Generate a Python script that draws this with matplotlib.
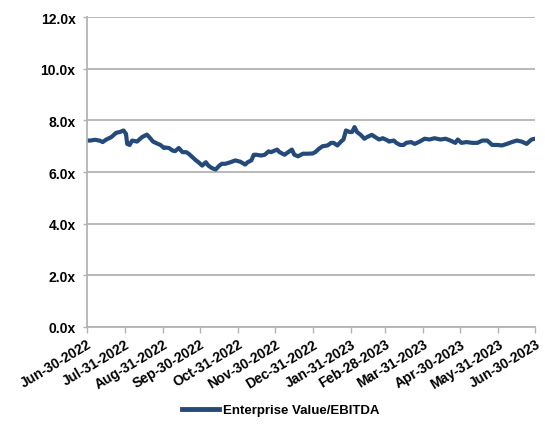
import matplotlib
matplotlib.use("Agg")
import matplotlib.pyplot as plt
from matplotlib.ticker import FuncFormatter
from matplotlib.lines import Line2D
import pandas as pd

plt.rcParams['font.family'] = ['Liberation Sans', 'DejaVu Sans']

series_name = "Enterprise Value/EBITDA"

dates = [
    "2022-06-30", "2022-07-03", "2022-07-07", "2022-07-11", "2022-07-13", "2022-07-16",
    "2022-07-20", "2022-07-24", "2022-07-27", "2022-07-30", "2022-08-01", "2022-08-02",
    "2022-08-04", "2022-08-06", "2022-08-10", "2022-08-14", "2022-08-18", "2022-08-20",
    "2022-08-23", "2022-08-27", "2022-08-29", "2022-09-01", "2022-09-02", "2022-09-05",
    "2022-09-08", "2022-09-10", "2022-09-13", "2022-09-16", "2022-09-19", "2022-09-21",
    "2022-09-24", "2022-09-27", "2022-09-29", "2022-10-02", "2022-10-05", "2022-10-07",
    "2022-10-10", "2022-10-13", "2022-10-16", "2022-10-18", "2022-10-21", "2022-10-25",
    "2022-10-29", "2022-11-02", "2022-11-06", "2022-11-08", "2022-11-11", "2022-11-13",
    "2022-11-15", "2022-11-19", "2022-11-22", "2022-11-25", "2022-11-27", "2022-12-02",
    "2022-12-04", "2022-12-08", "2022-12-11", "2022-12-14", "2022-12-16", "2022-12-19",
    "2022-12-23", "2022-12-27", "2022-12-31", "2023-01-02", "2023-01-05", "2023-01-08",
    "2023-01-12", "2023-01-15", "2023-01-17", "2023-01-20", "2023-01-23", "2023-01-25",
    "2023-01-27", "2023-01-30", "2023-02-01", "2023-02-03", "2023-02-05", "2023-02-08",
    "2023-02-11", "2023-02-13", "2023-02-17", "2023-02-20", "2023-02-23", "2023-02-26",
    "2023-03-02", "2023-03-03", "2023-03-07", "2023-03-09", "2023-03-12", "2023-03-15",
    "2023-03-17", "2023-03-21", "2023-03-24", "2023-03-28", "2023-04-01", "2023-04-05",
    "2023-04-09", "2023-04-14", "2023-04-18", "2023-04-22", "2023-04-26", "2023-04-28",
    "2023-05-01", "2023-05-05", "2023-05-10", "2023-05-14", "2023-05-18", "2023-05-22",
    "2023-05-26", "2023-05-30", "2023-06-03", "2023-06-07", "2023-06-11", "2023-06-15",
    "2023-06-19", "2023-06-23", "2023-06-27", "2023-06-30",
]

ev_ebitda = [
    7.22, 7.22, 7.25, 7.21, 7.16, 7.26,
    7.35, 7.52, 7.55, 7.61, 7.48, 7.09,
    7.05, 7.22, 7.18, 7.35, 7.45, 7.35,
    7.18, 7.09, 7.05, 6.93, 6.95, 6.93,
    6.83, 6.81, 6.93, 6.77, 6.77, 6.71,
    6.58, 6.45, 6.38, 6.25, 6.38, 6.25,
    6.15, 6.10, 6.25, 6.32, 6.32, 6.38,
    6.45, 6.40, 6.29, 6.38, 6.45, 6.67,
    6.67, 6.64, 6.67, 6.80, 6.77, 6.87,
    6.77, 6.67, 6.77, 6.87, 6.67, 6.61,
    6.71, 6.71, 6.72, 6.77, 6.90, 7.00,
    7.03, 7.13, 7.13, 7.03, 7.18, 7.26,
    7.61, 7.55, 7.55, 7.74, 7.55, 7.44,
    7.29, 7.35, 7.44, 7.35, 7.26, 7.31,
    7.22, 7.18, 7.22, 7.13, 7.05, 7.05,
    7.13, 7.16, 7.09, 7.18, 7.29, 7.26,
    7.31, 7.26, 7.29, 7.22, 7.13, 7.26,
    7.13, 7.16, 7.13, 7.13, 7.22, 7.22,
    7.05, 7.05, 7.03, 7.09, 7.16, 7.22,
    7.18, 7.09, 7.26, 7.29,
]

tick_dates = [
    "2022-06-30", "2022-07-31", "2022-08-31", "2022-09-30", "2022-10-31",
    "2022-11-30", "2022-12-31", "2023-01-31", "2023-02-28", "2023-03-31",
    "2023-04-30", "2023-05-31", "2023-06-30",
]
y_ticks = [0, 2, 4, 6, 8, 10, 12]

line_color = "#234a78"
grid_color = "#b3b3b3"

x = pd.to_datetime(dates)
ticks = pd.to_datetime(tick_dates)

fig = plt.figure(figsize=(5.45, 4.31), dpi=100)
ax = fig.add_axes([0.159, 0.239, 0.823, 0.719])

ax.plot(x, ev_ebitda, color=line_color, lw=3.0, solid_joinstyle="round",
        solid_capstyle="round")

ax.set_ylim(0, 12)
ax.set_yticks(y_ticks)
ax.yaxis.set_major_formatter(FuncFormatter(lambda v, p: f"{v:.1f}x"))
ax.set_xlim(ticks[0], ticks[-1])
ax.set_xticks(ticks)
ax.set_xticklabels([t.strftime("%b-%d-%Y") for t in ticks], rotation=31,
                   ha="right", rotation_mode="anchor")

ax.grid(axis="y", color=grid_color, lw=1.3)
ax.set_axisbelow(True)
for side in ("top", "right"):
    ax.spines[side].set_visible(False)
for side in ("left", "bottom"):
    ax.spines[side].set_color(grid_color)
    ax.spines[side].set_linewidth(1.3)

ax.tick_params(axis="both", colors=grid_color, labelcolor="black",
               labelsize=10, width=1.0)
ax.tick_params(axis="y", length=3, pad=5)
ax.tick_params(axis="x", length=4, pad=3)
for lbl in ax.get_xticklabels() + ax.get_yticklabels():
    lbl.set_fontweight("bold")

handle = Line2D([], [], color=line_color, lw=3.5)
fig.legend([handle], [series_name], loc="center left",
           bbox_to_anchor=(0.312, 0.046), frameon=False,
           prop={"weight": "bold", "size": 9.5}, handlelength=2.8,
           handletextpad=0.3)

fig.savefig("out.png", dpi=100)
